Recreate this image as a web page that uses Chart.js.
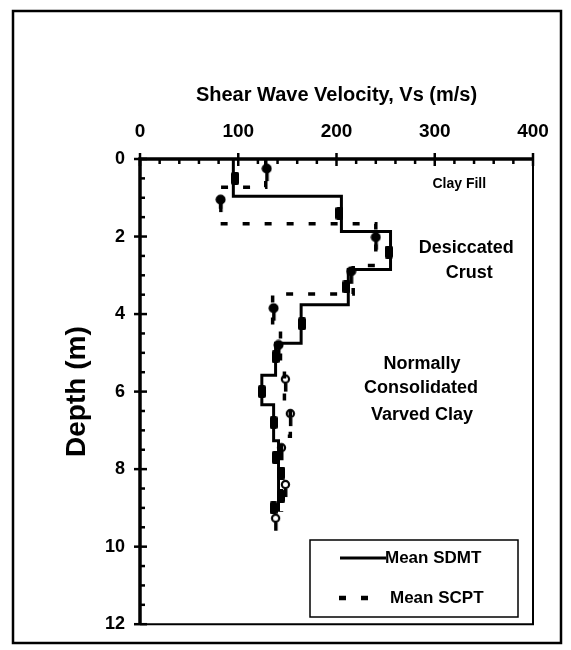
<!DOCTYPE html>
<html>
<head>
<meta charset="utf-8">
<script src="https://cdn.jsdelivr.net/npm/chart.js@4.4.1/dist/chart.umd.min.js"></script>
<style>
  html, body { margin: 0; padding: 0; background: #fff; }
  canvas { display: block; }
</style>
</head>
<body>
<canvas id="vsChart" width="571" height="650"></canvas>
<script>
// layer boundaries (m) and mean Vs (m/s) for each layer
const sdmtDepths = [0, 0.96, 1.87, 2.85, 3.76, 4.75, 5.58, 6.34, 7.27, 9.1];
const sdmtVs = [95, 205, 255, 212, 164, 138, 124, 136, 141];
const scptDepths = [0, 0.73, 1.67, 2.75, 3.48, 4.44, 5.3, 6.3, 7.15, 9.1];
const scptVs = [128, 82, 240, 217, 135, 143, 147, 153, 144];

// individual test readings
const sdmtPointVs = [97, 203, 253, 210, 165, 138, 124, 136, 138, 144, 144, 136];
const sdmtPointDepths = [0.5, 1.4, 2.4, 3.3, 4.25, 5.1, 6.0, 6.8, 7.7, 8.1, 8.7, 9.0];
const scptPointVs = [129, 82, 240, 215, 136, 141];
const scptPointDepths = [0.35, 1.15, 2.12, 3.0, 3.95, 4.9];
const scptOpenVs = [148, 153, 144, 148, 138];
const scptOpenDepths = [5.78, 6.67, 7.55, 8.5, 9.37];

const xTicks = [0, 100, 200, 300, 400];
const yTicks = [0, 2, 4, 6, 8, 10, 12];

const FONT = "'Liberation Sans', Arial, sans-serif";

// turn layer tables into a stepped profile (two corners per layer)
function profile(depths, vs) {
  const pts = [];
  for (let i = 0; i < vs.length; i++) {
    pts.push({ x: vs[i], y: depths[i] });
    pts.push({ x: vs[i], y: depths[i + 1] });
  }
  return pts;
}

function points(vs, depths) {
  return vs.map((v, i) => ({ x: v, y: depths[i] }));
}

// small marker images
function makeMarker(w, h, draw) {
  const c = document.createElement("canvas");
  c.width = w;
  c.height = h;
  const g = c.getContext("2d");
  g.fillStyle = "#000";
  g.strokeStyle = "#000";
  draw(g);
  return c;
}
const barMarker = makeMarker(8, 13, (g) => {
  g.beginPath();
  g.roundRect(0, 0, 8, 13, 2);
  g.fill();
});
const pinMarker = makeMarker(11, 19, (g) => {
  g.beginPath();
  g.arc(5.5, 5.5, 5, 0, Math.PI * 2);
  g.fill();
  g.fillRect(4, 8, 3.5, 10);
});
const openPinMarker = makeMarker(11, 19, (g) => {
  g.lineWidth = 2.2;
  g.beginPath();
  g.arc(5.5, 5.5, 3.6, 0, Math.PI * 2);
  g.stroke();
  g.fillRect(4, 10, 3.5, 8);
});

// frame, inward ticks, soil labels and legend box
const decorations = {
  id: "decorations",
  beforeDraw(chart) {
    const ctx = chart.ctx;
    ctx.save();
    ctx.fillStyle = "#fff";
    ctx.fillRect(0, 0, chart.width, chart.height);
    ctx.strokeStyle = "#000";
    ctx.lineWidth = 2.5;
    ctx.strokeRect(13, 11, 548, 632);
    ctx.restore();
  },
  afterDraw(chart) {
    const ctx = chart.ctx;
    const { left, right, top, bottom } = chart.chartArea;
    const xs = chart.scales.x;
    const ys = chart.scales.y;
    ctx.save();
    ctx.strokeStyle = "#000";
    ctx.fillStyle = "#000";

    // plot box
    ctx.lineWidth = 2;
    ctx.beginPath();
    ctx.moveTo(right, top);
    ctx.lineTo(right, bottom);
    ctx.lineTo(left, bottom);
    ctx.stroke();
    ctx.lineWidth = 3.5;
    ctx.beginPath();
    ctx.moveTo(left, bottom);
    ctx.lineTo(left, top);
    ctx.lineTo(right, top);
    ctx.stroke();

    // top axis ticks
    ctx.lineWidth = 2.5;
    for (let v = 0; v <= 400; v += 20) {
      const px = xs.getPixelForValue(v);
      const major = v % 100 === 0;
      ctx.beginPath();
      ctx.moveTo(px, major ? top - 6 : top);
      ctx.lineTo(px, major ? top + 7 : top + 5);
      ctx.stroke();
    }
    // depth axis ticks
    for (let d = 0; d <= 12; d += 0.5) {
      const py = ys.getPixelForValue(d);
      const major = d % 2 === 0;
      ctx.beginPath();
      ctx.moveTo(major ? left - 6 : left, py);
      ctx.lineTo(major ? left + 7 : left + 5, py);
      ctx.stroke();
    }

    // soil layer labels
    ctx.textAlign = "center";
    ctx.textBaseline = "middle";
    ctx.font = "bold 14px " + FONT;
    ctx.fillText("Clay Fill", xs.getPixelForValue(325), ys.getPixelForValue(0.66));
    ctx.font = "bold 18px " + FONT;
    ctx.fillText("Desiccated", xs.getPixelForValue(332), ys.getPixelForValue(2.3));
    ctx.fillText("Crust", xs.getPixelForValue(335), ys.getPixelForValue(2.93));
    ctx.fillText("Normally", xs.getPixelForValue(287), ys.getPixelForValue(5.28));
    ctx.fillText("Consolidated", xs.getPixelForValue(286), ys.getPixelForValue(5.9));
    ctx.fillText("Varved Clay", xs.getPixelForValue(287), ys.getPixelForValue(6.6));

    // legend
    const sdmt = chart.data.datasets[0];
    const scpt = chart.data.datasets[1];
    ctx.lineWidth = 1.5;
    ctx.strokeRect(310, 540, 208, 77);
    ctx.textAlign = "left";
    ctx.font = "bold 17px " + FONT;
    ctx.lineWidth = sdmt.borderWidth;
    ctx.beginPath();
    ctx.moveTo(340, 558);
    ctx.lineTo(386, 558);
    ctx.stroke();
    ctx.fillText(sdmt.label, 385, 558);
    ctx.lineWidth = scpt.borderWidth + 1;
    ctx.setLineDash([7, 15]);
    ctx.beginPath();
    ctx.moveTo(339, 598);
    ctx.lineTo(370, 598);
    ctx.stroke();
    ctx.setLineDash([]);
    ctx.fillText(scpt.label, 390, 598);
    ctx.restore();
  },
};

const config = {
  type: "scatter",
  data: {
    datasets: [
      {
        label: "Mean SDMT",
        data: profile(sdmtDepths, sdmtVs),
        showLine: true,
        borderColor: "#000",
        borderWidth: 3,
        pointRadius: 0,
      },
      {
        label: "Mean SCPT",
        data: profile(scptDepths, scptVs),
        showLine: true,
        borderColor: "#000",
        borderWidth: 3.5,
        borderDash: [7, 15],
        pointRadius: 0,
      },
      {
        label: "SDMT",
        data: points(sdmtPointVs, sdmtPointDepths),
        pointStyle: barMarker,
      },
      {
        label: "SCPT",
        data: points(scptPointVs, scptPointDepths),
        pointStyle: pinMarker,
      },
      {
        label: "SCPT (lower)",
        data: points(scptOpenVs, scptOpenDepths),
        pointStyle: openPinMarker,
      },
    ],
  },
  options: {
    responsive: false,
    animation: false,
    layout: {
      padding: { left: 0, top: 0, right: 38, bottom: 16 },
    },
    scales: {
      x: {
        type: "linear",
        position: "top",
        min: 0,
        max: 400,
        afterFit: (scale) => {
          scale.height = 159;
        },
        afterBuildTicks: (scale) => {
          scale.ticks = xTicks.map((v) => ({ value: v }));
        },
        grid: { display: false, drawTicks: false },
        border: { display: false },
        ticks: {
          padding: 16,
          color: "#000",
          font: { family: FONT, size: 19, weight: "bold" },
        },
        title: {
          display: true,
          text: "Shear Wave Velocity, Vs (m/s)",
          color: "#000",
          font: { family: FONT, size: 20, weight: "bold" },
          padding: { top: 83, bottom: 0 },
        },
      },
      y: {
        type: "linear",
        reverse: true,
        min: 0,
        max: 12,
        afterFit: (scale) => {
          scale.width = 140;
        },
        afterBuildTicks: (scale) => {
          scale.ticks = yTicks.map((v) => ({ value: v }));
        },
        grid: { display: false, drawTicks: false },
        border: { display: false },
        ticks: {
          padding: 15,
          color: "#000",
          font: { family: FONT, size: 18, weight: "bold" },
        },
        title: {
          display: true,
          text: "Depth (m)",
          color: "#000",
          font: { family: FONT, size: 28, weight: "bold" },
          padding: { top: 60, bottom: 0 },
        },
      },
    },
    plugins: {
      legend: { display: false },
      tooltip: { enabled: false },
    },
  },
  plugins: [decorations],
};

const vsChart = new Chart(document.getElementById("vsChart").getContext("2d"), config);
</script>
</body>
</html>
